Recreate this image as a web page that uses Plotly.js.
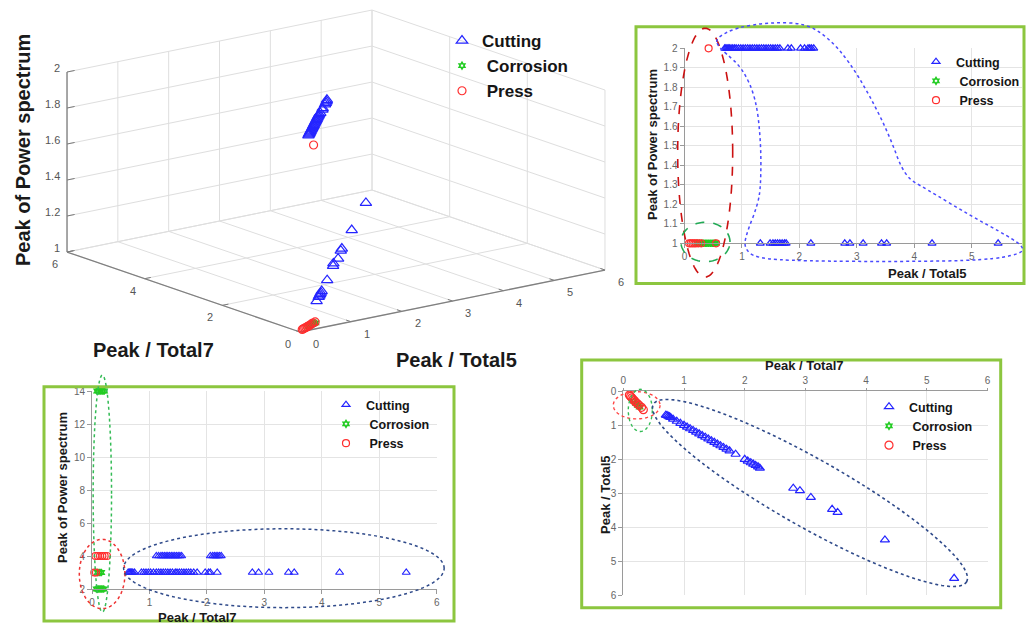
<!DOCTYPE html>
<html>
<head>
<meta charset="utf-8">
<script src="https://cdn.plot.ly/plotly-3.0.1.min.js"></script>
<style>
  html, body { margin: 0; padding: 0; background: #ffffff; }
  #chart { width: 1027px; height: 626px; }
</style>
</head>
<body>
<div id="chart"></div>
<script>
// ---------- 3-D view: Peak/Total5, Peak/Total7, peak of power spectrum ----------
const cut3_t5  = [0.70,0.74,0.78,0.82,0.86,0.90,0.95,1.00,1.05,1.10,1.15,1.20,1.25,1.30,1.35,1.40,1.45,1.50,1.55,1.60,1.66,1.80,1.86,2.02,2.09,2.15,2.21,
                  1.32,1.49,1.55,1.61,1.67,1.74,2.20,2.79,2.88,3.11,3.43,3.52,4.31,5.46];
const cut3_t7  = [0.70,0.74,0.78,0.82,0.86,0.90,0.95,1.00,1.05,1.10,1.15,1.20,1.25,1.30,1.35,1.40,1.45,1.50,1.55,1.60,1.65,1.78,1.85,2.00,2.07,2.13,2.20,
                  1.30,1.47,1.53,1.59,1.65,1.72,2.18,2.80,2.91,3.09,3.44,3.53,4.31,5.45];
const cut3_pps = [2,2,2,2,2,2,2,2,2,2,2,2,2,2,2,2,2,2,2,2,2,2,2,2,2,2,2,
                  1,1,1,1,1,1,1,1,1,1,1,1,1,1];
const cor3_t5  = [0.30,0.36,0.42,0.47,0.52];
const cor3_t7  = [0.18,0.21,0.24,0.27,0.28];
const cor3_pps = [1,1,1,1,1];
const pre3_t5  = [0.12,0.16,0.20,0.24,0.28,0.32,0.37,0.42,0.48,0.55,0.42];
const pre3_t7  = [0.10,0.12,0.14,0.16,0.18,0.20,0.23,0.26,0.30,0.33,0.20];
const pre3_pps = [1,1,1,1,1,1,1,1,1,1,2];
const t5Ticks  = [0,1,2,3,4,5,6];
const t7Ticks  = [0,2,4,6];
const ppsTicks = [1,1.2,1.4,1.6,1.8,2];

// ---------- Peak/Total5 vs peak of power spectrum ----------
const trCut_t5  = [0.70,0.72,0.74,0.76,0.78,0.81,0.84,0.87,0.90,0.94,0.98,1.02,1.06,1.10,1.14,1.18,1.22,1.26,1.30,1.34,1.38,1.42,1.46,1.50,1.54,1.58,1.62,1.66,1.80,1.86,2.02,2.09,2.15,2.18,2.21,2.25,
                   1.32,1.49,1.54,1.58,1.62,1.66,1.70,1.74,1.77,2.20,2.79,2.88,3.11,3.43,3.52,4.31,5.46];
const trCut_pps = [2,2,2,2,2,2,2,2,2,2,2,2,2,2,2,2,2,2,2,2,2,2,2,2,2,2,2,2,2,2,2,2,2,2,2,2,
                   1,1,1,1,1,1,1,1,1,1,1,1,1,1,1,1,1];
const trCor_t5  = [0.22,0.26,0.30,0.33,0.36,0.39,0.42,0.45,0.48,0.51,0.54];
const trCor_pps = [1,1,1,1,1,1,1,1,1,1,1];
const trPre_t5  = [0.08,0.11,0.14,0.17,0.20,0.24,0.29,0.55,0.42];
const trPre_pps = [1,1,1,1,1,1,1,1,2];

// ---------- Peak/Total7 vs peak of power spectrum ----------
const blCut_t7  = [1.12,1.16,1.20,1.23,1.26,1.29,1.32,1.35,1.38,1.41,1.44,1.47,1.50,1.53,1.56,2.06,2.10,2.13,2.16,2.19,2.22,2.25,
                   0.63,0.65,0.67,0.69,0.71,0.74,0.86,0.90,0.94,0.98,1.02,1.07,1.12,1.16,1.20,1.24,1.28,1.32,1.36,1.40,1.45,
                   1.48,1.52,1.56,1.60,1.64,1.68,1.72,1.77,1.83,1.97,2.03,2.06,2.18,2.79,2.90,3.08,3.42,3.52,4.31,5.47];
const blCut_pps = [4,4,4,4,4,4,4,4,4,4,4,4,4,4,4,4,4,4,4,4,4,4,
                   3,3,3,3,3,3,3,3,3,3,3,3,3,3,3,3,3,3,3,3,3,
                   3,3,3,3,3,3,3,3,3,3,3,3,3,3,3,3,3,3,3,3];
const blCor_t7  = [0.08,0.11,0.14,0.17,0.20,0.10,0.13,0.16,0.09,0.12,0.15,0.18,0.21];
const blCor_pps = [2,2,2,2,2,3,3,3,14,14,14,14,14];
const blPre_t7  = [0.04,0.07,0.06,0.10,0.14,0.18,0.22,0.26];
const blPre_pps = [3,3,4,4,4,4,4,4];

// ---------- Peak/Total7 vs Peak/Total5 ----------
const brCut_t7 = [0.70,0.72,0.74,0.76,0.78,0.82,0.88,0.94,1.00,1.05,1.10,1.15,1.20,1.25,1.30,1.35,1.40,1.45,1.50,1.55,1.60,1.65,1.70,1.75,1.85,2.00,2.05,2.10,2.14,2.18,2.22,2.25,2.80,2.91,3.09,3.44,3.53,4.31,5.45];
const brCut_t5 = [0.71,0.72,0.74,0.76,0.78,0.83,0.89,0.95,1.01,1.06,1.11,1.16,1.21,1.26,1.31,1.36,1.41,1.46,1.51,1.56,1.61,1.66,1.71,1.76,1.86,2.01,2.06,2.11,2.15,2.19,2.23,2.27,2.86,2.93,3.13,3.48,3.57,4.38,5.51];
const brCor_t7 = [0.18,0.21,0.24,0.27];
const brCor_t5 = [0.30,0.36,0.42,0.47];
const brPre_t7 = [0.10,0.12,0.14,0.16,0.18,0.20,0.23,0.26,0.30,0.33];
const brPre_t5 = [0.12,0.16,0.20,0.24,0.28,0.32,0.37,0.42,0.48,0.55];

const classNames = ['Cutting', '\u00a0Corrosion', '\u00a0Press'];

// ---------- page geometry ----------
const W = 1027, H = 626;
const fx = px => px / W;
const fy = py => 1 - py / H;

// oblique (orthographic) view of the 3-D box, drawn on a hidden pixel-unit subplot
const VIEW_W = 637, VIEW_H = 380;
const view3 = { o: [300, 332], e5: [50.83, -10.33], e7: [-38.83, -13.33], ez: [0, -180], z0: 1 };
function proj(t5, t7, pps) {
  const dz = pps - view3.z0;
  return [view3.o[0] + t5 * view3.e5[0] + t7 * view3.e7[0] + dz * view3.ez[0],
          view3.o[1] + t5 * view3.e5[1] + t7 * view3.e7[1] + dz * view3.ez[1]];
}
function projAll(a, b, c) {
  const xs = [], ys = [];
  a.forEach((v, i) => { const q = proj(v, b[i], c[i]); xs.push(q[0]); ys.push(q[1]); });
  return [xs, ys];
}
function segTrace(segs, color, width) {
  const xs = [], ys = [];
  segs.forEach(s => {
    const a = proj(...s[0]), b = proj(...s[1]);
    xs.push(a[0], b[0], null); ys.push(a[1], b[1], null);
  });
  return { type: 'scatter', mode: 'lines', x: xs, y: ys, xaxis: 'x4', yaxis: 'y4',
           line: { color: color, width: width }, showlegend: false, hoverinfo: 'skip' };
}

// pixel extents of the three flat panels and their axis ranges
const panels = {
  tr: { px: [684.5, 1022], py: [243.3, 48.3], xr: [0, 5.876], yr: [1, 2] },
  bl: { px: [92, 436.7],   py: [589, 391],    xr: [0, 6],     yr: [2, 14] },
  br: { px: [623.3, 987.5], py: [391, 595],   xr: [0, 6],     yr: [0, 6] }
};
function toPaper(p, x, y) {
  const px = p.px[0] + (x - p.xr[0]) / (p.xr[1] - p.xr[0]) * (p.px[1] - p.px[0]);
  const py = p.py[0] + (y - p.yr[0]) / (p.yr[1] - p.yr[0]) * (p.py[1] - p.py[0]);
  return [fx(px), fy(py)];
}
function xDomain(p) { return [fx(Math.min(...p.px)), fx(Math.max(...p.px))]; }
function yDomain(p) { return [fy(Math.max(...p.py)), fy(Math.min(...p.py))]; }

// grouping outlines, given in each panel's data units
const groupRings = [
  { p: 'tr', cx: 0.36, cy: 1.465, ax: 0.479, ay: 0, bx: 0, by: 0.638, color: '#cc1111', dash: 'dash', width: 1.6 },
  { p: 'tr', cx: 0.365, cy: 1.007, ax: 0.427, ay: 0, bx: 0, by: 0.101, color: '#22aa55', dash: 'dash', width: 1.6 },
  { p: 'bl', cx: 0.18, cy: 7.78, ax: 0.16, ay: 0, bx: 0, by: 7.18, color: '#33bb55', dash: 'dot', width: 1.5 },
  { p: 'bl', cx: 0.176, cy: 2.91, ax: 0.397, ay: 0, bx: 0, by: 2.10, color: '#ee3333', dash: 'dot', width: 1.5 },
  { p: 'bl', cx: 3.34, cy: 3.26, ax: 2.79, ay: 0, bx: 0, by: 2.39, color: '#2f4a8a', dash: 'dot', width: 1.5 },
  { p: 'br', cx: 0.22, cy: 0.42, ax: 0.385, ay: 0, bx: 0, by: 0.40, color: '#ff4444', dash: 'dot', width: 1.4 },
  { p: 'br', cx: 0.28, cy: 0.57, ax: 0.198, ay: 0, bx: 0, by: 0.62, color: '#33bb55', dash: 'dot', width: 1.4 },
  { p: 'br', cx: 3.076, cy: 3.0, ax: 2.58, ay: 2.61, bx: 0.275, by: -0.87, color: '#2f4a8a', dash: 'dot', width: 1.6 }
];
const trOutline_t5  = [0.548,0.897,1.476,2.115,2.52,2.87,3.22,3.565,3.83,4.20,4.96,5.65,5.92,5.83,5.25,3.80,2.06,1.245,1.04,1.07,1.275,1.33,1.33,1.245,1.01,0.72,0.578];
const trOutline_pps = [2.053,2.106,2.133,2.128,2.05,1.93,1.76,1.555,1.342,1.28,1.145,1.034,0.977,0.944,0.913,0.906,0.909,0.923,0.974,1.043,1.196,1.30,1.52,1.744,1.897,1.974,2.013];

function ringPath(r) {
  const p = panels[r.p];
  let d = '';
  for (let i = 0; i <= 120; i++) {
    const t = 2 * Math.PI * i / 120;
    const x = r.cx + r.ax * Math.cos(t) + r.bx * Math.sin(t);
    const y = r.cy + r.ay * Math.cos(t) + r.by * Math.sin(t);
    const q = toPaper(p, x, y);
    d += (i ? ' L ' : 'M ') + q[0].toFixed(5) + ',' + q[1].toFixed(5);
  }
  return d + ' Z';
}
function smoothClosedPath(p, xs, ys) {
  const pts = xs.map((x, i) => toPaper(p, x, ys[i]));
  const n = pts.length;
  const mid = (a, b) => [(a[0] + b[0]) / 2, (a[1] + b[1]) / 2];
  const f = v => v[0].toFixed(5) + ',' + v[1].toFixed(5);
  let d = 'M ' + f(mid(pts[n - 1], pts[0]));
  for (let i = 0; i < n; i++) {
    d += ' Q ' + f(pts[i]) + ' ' + f(mid(pts[i], pts[(i + 1) % n]));
  }
  return d + ' Z';
}

// ---------- styles ----------
const BLUE = '#2424ff', GREEN = '#22cc22', RED = '#ff2e2e';
const FONT = 'Liberation Sans, Arial, sans-serif';
const mk = {
  cut: s => ({ symbol: 'triangle-up-open', size: s, color: BLUE, line: { width: 1.2 } }),
  cor: s => ({ symbol: 'hexagram-open', size: s, color: GREEN, line: { width: 1.6 } }),
  pre: s => ({ symbol: 'circle-open', size: s, color: RED, line: { width: 1.2 } })
};

const traces = [];

// ----- 3-D box: back-wall grid, then front axis edges -----
const gridSegs = [];
t5Ticks.forEach(a => {
  gridSegs.push([[a, 0, 1], [a, 6, 1]]);         // floor
  gridSegs.push([[a, 6, 1], [a, 6, 2]]);         // back wall (Peak/Total7 = 6)
});
t7Ticks.forEach(b => {
  gridSegs.push([[0, b, 1], [6, b, 1]]);         // floor
  gridSegs.push([[6, b, 1], [6, b, 2]]);         // back wall (Peak/Total5 = 6)
});
ppsTicks.forEach(c => {
  gridSegs.push([[0, 6, c], [6, 6, c]]);
  gridSegs.push([[6, 6, c], [6, 0, c]]);
});
traces.push(segTrace(gridSegs, '#dedede', 1));

const tickSegs = [];
t5Ticks.forEach(a => tickSegs.push([[a, 0, 1], [a, 0.12, 1]]));
t7Ticks.forEach(b => tickSegs.push([[0, b, 1], [0.12, b, 1]]));
ppsTicks.forEach(c => tickSegs.push([[0, 6, c], [0.15, 6, c]]));
traces.push(segTrace(tickSegs, '#7a7a7a', 1));
traces.push(segTrace([[[0, 0, 1], [6, 0, 1]], [[0, 0, 1], [0, 6, 1]], [[0, 6, 1], [0, 6, 2]]], '#808080', 1.3));

// ----- 3-D marks -----
[[cut3_t5, cut3_t7, cut3_pps, 'cut', 10], [cor3_t5, cor3_t7, cor3_pps, 'cor', 5], [pre3_t5, pre3_t7, pre3_pps, 'pre', 8]]
  .forEach((s, i) => {
    const q = projAll(s[0], s[1], s[2]);
    traces.push({
      type: 'scatter', mode: 'markers', x: q[0], y: q[1], xaxis: 'x4', yaxis: 'y4',
      name: classNames[i], legend: 'legend', marker: mk[s[3]](s[4]), cliponaxis: false, hoverinfo: 'skip'
    });
  });

// ----- flat panels -----
function addPanel(xa, ya, lg, sets, sizes) {
  sets.forEach((s, i) => {
    const kind = ['cut', 'cor', 'pre'][i];
    traces.push({
      type: 'scatter', mode: 'markers', x: s[0], y: s[1], xaxis: xa, yaxis: ya,
      name: classNames[i], legend: lg, marker: mk[kind](sizes[i]), cliponaxis: false, hoverinfo: 'skip'
    });
  });
}
addPanel('x', 'y', 'legend2', [[trCut_t5, trCut_pps], [trCor_t5, trCor_pps], [trPre_t5, trPre_pps]], [7, 5, 7]);
addPanel('x2', 'y2', 'legend3', [[blCut_t7, blCut_pps], [blCor_t7, blCor_pps], [blPre_t7, blPre_pps]], [7, 5, 7]);
addPanel('x3', 'y3', 'legend4', [[brCut_t7, brCut_t5], [brCor_t7, brCor_t5], [brPre_t7, brPre_t5]], [8, 5, 8]);

// ---------- axes ----------
function flatAxis(p, which, extra) {
  return Object.assign({
    domain: which === 'x' ? xDomain(p) : yDomain(p),
    range: which === 'x' ? p.xr.slice() : p.yr.slice(),
    showgrid: true, gridcolor: '#e4e4e4', gridwidth: 1,
    zeroline: false, showline: true, linecolor: '#9a9a9a', linewidth: 1,
    ticks: 'outside', ticklen: 4, tickcolor: '#9a9a9a',
    tickfont: { family: FONT, size: 10, color: '#666' },
    fixedrange: true
  }, extra);
}
const hiddenAxis = (domain, range) => ({ domain: domain, range: range, visible: false, fixedrange: true });

const boxes = [[636, 26.7, 1024, 283.5], [44, 386.7, 454, 621], [581.7, 360, 1000.7, 607.7]];
const shapes = boxes.map(b => ({
  type: 'rect', xref: 'paper', yref: 'paper',
  x0: fx(b[0]), x1: fx(b[2]), y0: fy(b[3]), y1: fy(b[1]),
  line: { color: '#8cc63f', width: 3 }, fillcolor: 'rgba(0,0,0,0)'
}));
groupRings.forEach(r => shapes.push({
  type: 'path', xref: 'paper', yref: 'paper', path: ringPath(r),
  line: { color: r.color, width: r.width, dash: r.dash }
}));
shapes.push({
  type: 'path', xref: 'paper', yref: 'paper',
  path: smoothClosedPath(panels.tr, trOutline_t5, trOutline_pps),
  line: { color: '#4a4aff', width: 1.5, dash: 'dot' }
});

function title(text, px, py, size, angle) {
  return {
    text: '<b>' + text + '</b>', xref: 'paper', yref: 'paper', x: fx(px), y: fy(py),
    showarrow: false, xanchor: 'center', yanchor: 'middle', textangle: angle || 0,
    font: { family: FONT, size: size, color: '#1a1a1a' }
  };
}
const annotations = [
  title('Peak of Power spectrum', 23, 150, 20, -90),
  title('Peak / Total7', 153, 350, 20),
  title('Peak / Total5', 456, 360, 20),
  title('Peak of Power spectrum', 652, 145, 13, -90),
  title('Peak / Total5', 927, 273, 13),
  title('Peak of Power spectrum', 62, 488, 13, -90),
  title('Peak / Total7', 197, 617, 13),
  title('Peak / Total7', 804, 365, 13),
  title('Peak / Total5', 605, 495, 13, -90)
];
// tick labels of the 3-D box
function tickLabel(pt, text, dx, dy, anchor) {
  const q = proj(...pt);
  return {
    text: text, xref: 'x4', yref: 'y4', x: q[0], y: q[1], xshift: dx, yshift: -dy,
    showarrow: false, xanchor: anchor || 'center', yanchor: 'middle',
    font: { family: FONT, size: 11, color: '#555' }
  };
}
t5Ticks.forEach(a => annotations.push(tickLabel([a, 0, 1], String(a), 16, 12)));
t7Ticks.forEach(b => annotations.push(tickLabel([0, b, 1], String(b), -12, 12)));
ppsTicks.forEach(c => annotations.push(tickLabel([0, 6, c], String(c), -5, -4, 'right')));

function legendAt(px, py, size) {
  return {
    x: fx(px), y: fy(py), xanchor: 'left', yanchor: 'top',
    bgcolor: 'rgba(0,0,0,0)', borderwidth: 0, tracegroupgap: 0,
    font: { family: FONT, size: size, color: '#151515', weight: 'bold' },
    itemclick: false, itemdoubleclick: false
  };
}

const layout = {
  width: W, height: H, autosize: false,
  margin: { l: 0, r: 0, t: 0, b: 0, pad: 0 },
  paper_bgcolor: '#ffffff', plot_bgcolor: 'rgba(0,0,0,0)',
  font: { family: FONT },
  showlegend: true,
  xaxis:  flatAxis(panels.tr, 'x', { anchor: 'y', dtick: 1, tick0: 0 }),
  yaxis:  flatAxis(panels.tr, 'y', { anchor: 'x', dtick: 0.1, tick0: 1 }),
  xaxis2: flatAxis(panels.bl, 'x', { anchor: 'y2', dtick: 1, tick0: 0 }),
  yaxis2: flatAxis(panels.bl, 'y', { anchor: 'x2', dtick: 2, tick0: 2 }),
  xaxis3: flatAxis(panels.br, 'x', { anchor: 'y3', dtick: 1, tick0: 0, side: 'top', ticklen: 2 }),
  yaxis3: flatAxis(panels.br, 'y', { anchor: 'x3', dtick: 1, tick0: 0, range: [6, 0] }),
  xaxis4: hiddenAxis([0, fx(VIEW_W)], [0, VIEW_W]),
  yaxis4: hiddenAxis([fy(VIEW_H), 1], [VIEW_H, 0]),
  legend:  legendAt(442, 23, 17),
  legend2: legendAt(916, 47, 12.5),
  legend3: legendAt(326, 390, 12.5),
  legend4: legendAt(869, 392, 12.5),
  shapes: shapes,
  annotations: annotations
};
layout.yaxis4.anchor = 'x4';
layout.xaxis4.anchor = 'y4';

Plotly.newPlot('chart', traces, layout, { staticPlot: true, displayModeBar: false });
</script>
</body>
</html>
